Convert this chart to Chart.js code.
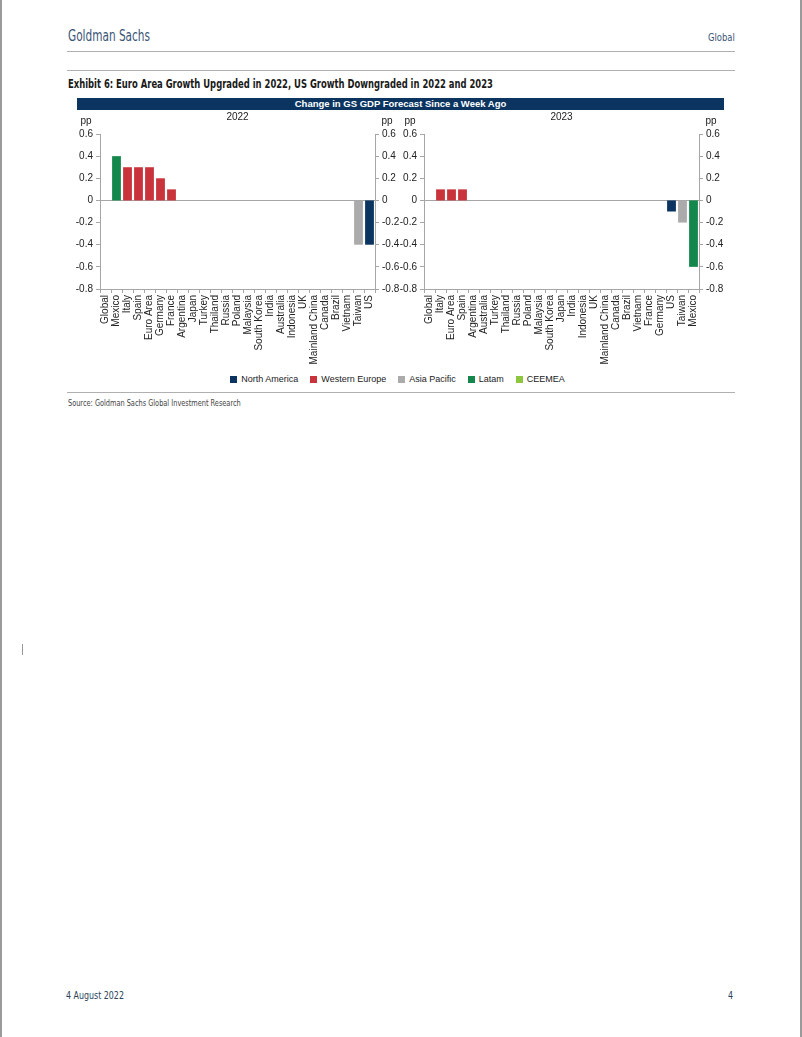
<!DOCTYPE html>
<html>
<head>
<meta charset="utf-8">
<script src="https://cdn.jsdelivr.net/npm/chart.js@4.4.1/dist/chart.umd.min.js"></script>
<style>
    body { margin: 0; background: #fff; }
    #page { position: relative; width: 802px; height: 1037px; overflow: hidden;
            font-family: "Liberation Sans Narrow", "DejaVu Sans Condensed", "Liberation Sans", sans-serif; }
    .abs { position: absolute; white-space: nowrap; }
    .narrow { transform-origin: left top; }
    .hline { position: absolute; height: 1px; background: #b0b0b0; }
    #brand { left: 68px; top: 27px; font-size: 15px; color: #3a5576; transform: scaleX(0.78); }
    #section { left: 708px; top: 31px; font-size: 11px; color: #3a5576; transform: scaleX(0.85); }
    #exhibit { left: 68px; top: 77px; font-size: 12px; font-weight: bold; color: #1a1a1a; transform: scaleX(0.78); }
    #banner { left: 77px; top: 98px; width: 647px; height: 12px; background: #0b3560;
              color: #fff; font-family: "Liberation Sans", Arial, sans-serif; font-size: 9.5px;
              font-weight: bold; text-align: center; line-height: 12px; }
    canvas { position: absolute; }
    #legend { left: 60px; width: 675px; top: 374px; display: flex; justify-content: center;
              font-family: "Liberation Sans", Arial, sans-serif; font-size: 9px; color: #222; }
    #legend span.item { display: flex; align-items: center; margin: 0 6px; }
    #legend span.box { width: 7px; height: 7px; margin-right: 4px; display: inline-block; }
    #source { left: 68px; top: 398px; font-size: 8.5px; color: #444; transform: scaleX(0.86); }
    #date { left: 66px; top: 989px; font-size: 11px; color: #2a3f5a; transform: scaleX(0.8); }
    #pnum { left: 728px; top: 989px; font-size: 11px; color: #2a3f5a; transform: scaleX(0.8); }
</style>
</head>
<body>
<div id="page">
    <div class="abs" style="left:0;top:0;width:2px;height:1037px;background:#9a9a9a"></div>
    <div class="abs" style="right:0;top:0;width:2px;height:1037px;background:#9a9a9a"></div>
    <div class="abs" style="left:22px;top:644px;width:1px;height:11px;background:#9a9a9a"></div>

    <div id="brand" class="abs narrow">Goldman Sachs</div>
    <div id="section" class="abs narrow">Global</div>
    <div class="hline" style="left:67px;width:668px;top:51px"></div>
    <div class="hline" style="left:67px;width:668px;top:70px"></div>
    <div id="exhibit" class="abs narrow">Exhibit 6: Euro Area Growth Upgraded in 2022, US Growth Downgraded in 2022 and 2023</div>
    <div id="banner" class="abs">Change in GS GDP Forecast Since a Week Ago</div>

    <canvas id="chart2022" width="350" height="253" style="left:60px;top:112px"></canvas>
    <canvas id="chart2023" width="350" height="253" style="left:384px;top:112px"></canvas>

    <div id="legend" class="abs"></div>
    <div class="hline" style="left:67px;width:668px;top:392px"></div>
    <div id="source" class="abs narrow">Source: Goldman Sachs Global Investment Research</div>

    <div id="date" class="abs narrow">4 August 2022</div>
    <div id="pnum" class="abs narrow">4</div>
</div>

<script>
// regions and their colours
const regionNames  = ['North America', 'Western Europe', 'Asia Pacific', 'Latam', 'CEEMEA'];
const regionColors = ['#0b3560', '#c9333b', '#ababab', '#14884c', '#8dc63f'];

// 2022 panel
const cats2022 = ['Global', 'Mexico', 'Italy', 'Spain', 'Euro Area', 'Germany', 'France', 'Argentina',
    'Japan', 'Turkey', 'Thailand', 'Russia', 'Poland', 'Malaysia', 'South Korea', 'India', 'Australia',
    'Indonesia', 'UK', 'Mainland China', 'Canada', 'Brazil', 'Vietnam', 'Taiwan', 'US'];
const vals2022 = [0, 0.4, 0.3, 0.3, 0.3, 0.2, 0.1, 0, 0, 0, 0, 0, 0, 0, 0, 0, 0, 0, 0, 0, 0, 0, 0, -0.4, -0.4];
const regs2022 = ['', 'Latam', 'Western Europe', 'Western Europe', 'Western Europe', 'Western Europe',
    'Western Europe', 'Latam', 'Asia Pacific', 'CEEMEA', 'Asia Pacific', 'CEEMEA', 'CEEMEA', 'Asia Pacific',
    'Asia Pacific', 'Asia Pacific', 'Asia Pacific', 'Asia Pacific', 'Western Europe', 'Asia Pacific',
    'North America', 'Latam', 'Asia Pacific', 'Asia Pacific', 'North America'];

// 2023 panel
const cats2023 = ['Global', 'Italy', 'Euro Area', 'Spain', 'Argentina', 'Australia', 'Turkey', 'Thailand',
    'Russia', 'Poland', 'Malaysia', 'South Korea', 'Japan', 'India', 'Indonesia', 'UK', 'Mainland China',
    'Canada', 'Brazil', 'Vietnam', 'France', 'Germany', 'US', 'Taiwan', 'Mexico'];
const vals2023 = [0, 0.1, 0.1, 0.1, 0, 0, 0, 0, 0, 0, 0, 0, 0, 0, 0, 0, 0, 0, 0, 0, 0, 0, -0.1, -0.2, -0.6];
const regs2023 = ['', 'Western Europe', 'Western Europe', 'Western Europe', 'Latam', 'Asia Pacific',
    'CEEMEA', 'Asia Pacific', 'CEEMEA', 'CEEMEA', 'Asia Pacific', 'Asia Pacific', 'Asia Pacific',
    'Asia Pacific', 'Asia Pacific', 'Western Europe', 'Asia Pacific', 'North America', 'Latam',
    'Asia Pacific', 'Western Europe', 'Western Europe', 'North America', 'Asia Pacific', 'Latam'];

const yTicks = ['0.6', '0.4', '0.2', '0', '-0.2', '-0.4', '-0.6', '-0.8'];

const axisGrey = '#a6a6a6';
const textCol  = '#222';
const chartFont = 'Liberation Sans';

function colorFor(reg) {
    const i = regionNames.indexOf(reg);
    return i >= 0 ? regionColors[i] : '#ababab';
}

// draws the "pp" unit labels and the panel year
const panelLabels = {
    id: 'panelLabels',
    afterDraw(chart, args, opts) {
        const { ctx, chartArea } = chart;
        ctx.save();
        ctx.font = '10px ' + chartFont;
        ctx.fillStyle = textCol;
        ctx.textBaseline = 'middle';
        ctx.textAlign = 'center';
        ctx.fillText('pp', chartArea.left - 14, 9);
        ctx.fillText('pp', chartArea.right + 12, 9);
        ctx.fillText(opts.year, (chartArea.left + chartArea.right) / 2, 5);
        ctx.restore();
    }
};

function yAxis(side, width, showZero) {
    return {
        position: side,
        min: -0.8,
        max: 0.6,
        ticks: {
            stepSize: 0.2,
            font: { family: chartFont, size: 10 },
            color: textCol,
            padding: 3,
            callback: (v, i, ticks) => yTicks[ticks.length - 1 - i]
        },
        grid: {
            drawOnChartArea: showZero,
            color: ctx => (ctx.tick && Math.abs(ctx.tick.value) < 1e-9) ? axisGrey : 'rgba(0,0,0,0)',
            tickColor: axisGrey,
            tickLength: 4
        },
        border: { color: axisGrey },
        afterFit: s => { s.width = width; }
    };
}

function makeChart(id, cats, vals, regs, year) {
    return new Chart(document.getElementById(id), {
        type: 'bar',
        data: {
            labels: cats,
            datasets: [{
                data: vals,
                backgroundColor: regs.map(colorFor),
                borderWidth: 0,
                barPercentage: 0.8,
                categoryPercentage: 1
            }]
        },
        options: {
            responsive: false,
            devicePixelRatio: 1,
            animation: false,
            layout: { padding: { top: 22, left: 0, right: 0, bottom: 0 } },
            plugins: {
                legend: { display: false },
                tooltip: { enabled: false },
                panelLabels: { year: year }
            },
            scales: {
                x: {
                    offset: true,
                    grid: { offset: true, drawOnChartArea: false, color: axisGrey, tickLength: 4 },
                    border: { color: axisGrey },
                    ticks: {
                        autoSkip: false,
                        maxRotation: 90,
                        minRotation: 90,
                        padding: 2,
                        font: { family: chartFont, size: 10 },
                        color: textCol
                    },
                    afterFit: s => { s.height = 76; }
                },
                y: yAxis('left', 40, true),
                y2: yAxis('right', 35, false)
            }
        },
        plugins: [panelLabels]
    });
}

makeChart('chart2022', cats2022, vals2022, regs2022, '2022');
makeChart('chart2023', cats2023, vals2023, regs2023, '2023');

// shared legend under both panels
const legendEl = document.getElementById('legend');
regionNames.forEach((name, i) => {
    const item = document.createElement('span');
    item.className = 'item';
    item.innerHTML = `<span class="box" style="background:${regionColors[i]}"></span>${name}`;
    legendEl.appendChild(item);
});
</script>
</body>
</html>
